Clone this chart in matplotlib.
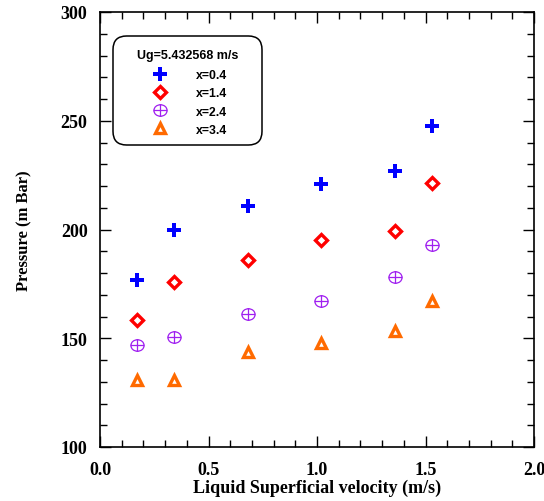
import matplotlib
matplotlib.use("Agg")
import matplotlib.pyplot as plt
from matplotlib.ticker import MultipleLocator, FormatStrFormatter
from matplotlib.lines import Line2D
from matplotlib.path import Path
from matplotlib.patches import FancyBboxPatch
import numpy as np

# Liquid superficial velocity (m/s)
velocity = [0.17, 0.34, 0.68, 1.02, 1.36, 1.53]

# Pressure (m Bar) at each axial position
p_x04 = [176.6, 200.0, 210.9, 221.0, 227.0, 247.5]
p_x14 = [158.5, 176.0, 186.2, 195.2, 199.4, 221.5]
p_x24 = [146.8, 150.4, 161.3, 167.3, 178.0, 193.0]
p_x34 = [130.9, 130.9, 143.6, 147.9, 153.3, 167.1]

labels = ["x=0.4", "x=1.4", "x=2.4", "x=3.4"]
legend_title = "Ug=5.432568 m/s"

serif = "Liberation Serif"
sans = "Liberation Sans"

W, H = 544, 502
fig = plt.figure(figsize=(W / 100, H / 100), dpi=100)
ax = fig.add_axes([100 / W, 1 - 448 / H, 434 / W, 435 / H])

blue = "#0000ff"
red = "#ff0000"
purple = "#a020f0"
orange = "#ff6a00"

# crossed ellipse marker
circ = Path.unit_circle()
cverts = circ.vertices * np.array([1.15, 1.0])
cross_verts = np.array([[-1.15, 0], [1.15, 0], [0, -1.05], [0, 1.05]])
cross_codes = [Path.MOVETO, Path.LINETO, Path.MOVETO, Path.LINETO]
crossed_ellipse = Path(np.vstack([cverts, cross_verts]),
                       list(circ.codes) + cross_codes)

styles = [
    dict(marker="P", markersize=10, color=blue, markeredgewidth=0),
    dict(marker="D", markersize=6, markerfacecolor="white",
         markeredgecolor=red, markeredgewidth=2.4),
    dict(marker=crossed_ellipse, markersize=9.5, markerfacecolor="none",
         markeredgecolor=purple, markeredgewidth=0.9),
    dict(marker="^", markersize=6.6, markerfacecolor="white",
         markeredgecolor=orange, markeredgewidth=2.4),
]

for series, st in zip([p_x04, p_x14, p_x24, p_x34], styles):
    ax.plot(velocity, series, linestyle="none", **st)

ax.set_xlim(0, 2.0)
ax.set_ylim(100, 300)
ax.xaxis.set_major_locator(MultipleLocator(0.5))
ax.xaxis.set_minor_locator(MultipleLocator(0.1))
ax.yaxis.set_major_locator(MultipleLocator(50))
ax.yaxis.set_minor_locator(MultipleLocator(10))
ax.xaxis.set_major_formatter(FormatStrFormatter("%.1f"))

ax.tick_params(which="both", direction="in", top=True, right=True, width=1.0)
ax.tick_params(which="major", length=8)
ax.tick_params(which="minor", length=5)
ax.tick_params(axis="x", which="major", pad=10)
ax.tick_params(axis="y", which="major", pad=9)
for spine in ax.spines.values():
    spine.set_linewidth(1.2)

for lab in ax.get_xticklabels() + ax.get_yticklabels():
    lab.set_fontfamily(serif)
    lab.set_fontweight("bold")
    lab.set_fontsize(13)

ax.set_xlabel("Liquid Superficial velocity (m/s)", fontfamily=serif,
              fontweight="bold", fontsize=13, labelpad=0.5)
ax.set_ylabel("Pressure (m Bar)", fontfamily=serif, fontweight="bold",
              fontsize=12, labelpad=20)


def px(x, y):
    """Pixel position (from top-left) to figure fraction."""
    return x / W, 1 - y / H


# rounded legend frame
x0, y0 = px(113, 146)
x1, y1 = px(262, 37)
frame = FancyBboxPatch((x0, y0), x1 - x0, y1 - y0, transform=fig.transFigure,
                       boxstyle="round,pad=0,rounding_size=0.025",
                       facecolor="white", edgecolor="black", linewidth=1.1,
                       mutation_aspect=W / H, zorder=4)
ax.add_artist(frame)

handles = [Line2D([], [], linestyle="none", **st) for st in styles]
leg = ax.legend(handles, labels, title=legend_title, loc="upper center",
                bbox_to_anchor=px(187.5, 50), bbox_transform=fig.transFigure,
                prop={"family": sans, "weight": "bold", "size": 8.8},
                title_fontproperties={"family": sans, "weight": "bold", "size": 9},
                frameon=False, handletextpad=2.0, handlelength=2.0,
                borderpad=0, labelspacing=0.5, borderaxespad=0)
leg._legend_box.sep = 6
leg.set_zorder(5)

fig.savefig("out.png", dpi=100)
